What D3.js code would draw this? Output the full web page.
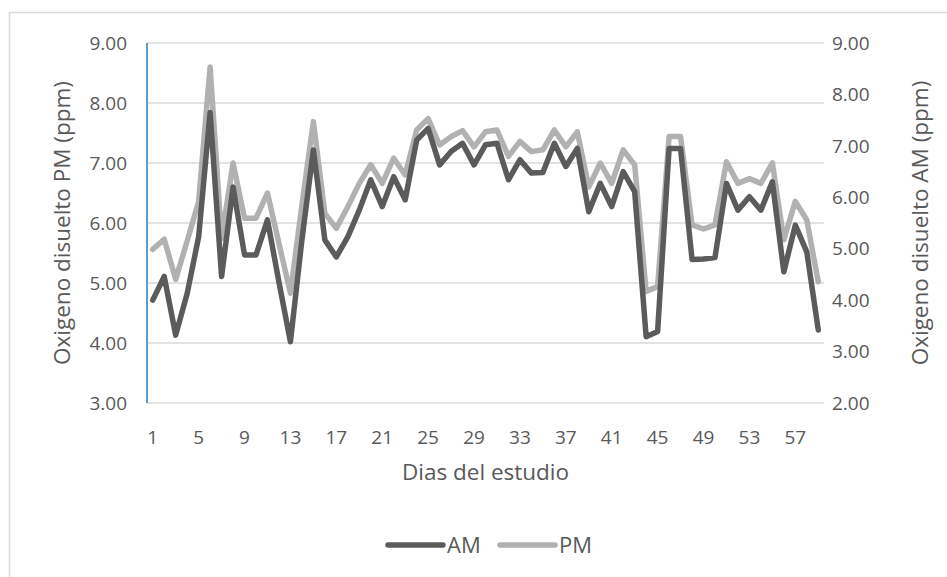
<!DOCTYPE html>
<html><head><meta charset="utf-8">
<script src="https://cdn.jsdelivr.net/npm/d3@7"></script>
<style>html,body{margin:0;padding:0;background:#fff;} svg{display:block;font-family:"Open Sans",sans-serif;}</style>
</head><body>
<svg id="c" width="947" height="577"></svg>
<script>
const days = [1,2,3,4,5,6,7,8,9,10,11,12,13,14,15,16,17,18,19,20,21,22,23,24,25,26,27,28,29,30,31,32,33,34,35,36,37,38,39,40,41,42,43,44,45,46,47,48,49,50,51,52,53,54,55,56,57,58,59];
const amValues = [4.00,4.46,3.32,4.13,5.23,7.65,4.46,6.20,4.88,4.88,
  5.56,4.35,3.19,5.17,6.92,5.17,4.84,5.23,5.75,6.34,
  5.82,6.40,5.95,7.11,7.34,6.63,6.89,7.05,6.63,7.02,
  7.05,6.34,6.73,6.47,6.48,7.05,6.60,6.95,5.72,6.27,
  5.82,6.50,6.11,3.29,3.39,6.95,6.95,4.79,4.80,4.83,
  6.27,5.75,6.01,5.75,6.30,4.55,5.46,4.94,3.42];
const pmValues = [5.56,5.73,5.06,5.70,6.36,8.60,5.74,7.00,6.08,6.08,
  6.50,5.66,4.83,6.30,7.69,6.16,5.91,6.27,6.66,6.97,
  6.66,7.08,6.80,7.55,7.74,7.30,7.44,7.54,7.27,7.52,
  7.55,7.11,7.36,7.19,7.22,7.55,7.27,7.52,6.60,7.00,
  6.66,7.22,6.97,4.86,4.94,7.44,7.44,5.97,5.90,5.97,
  7.02,6.66,6.74,6.66,7.00,5.72,6.36,6.05,5.02];
const leftTicks = [3,4,5,6,7,8,9];
const rightTicks = [2,3,4,5,6,7,8,9];
const xTickLabels = [1,5,9,13,17,21,25,29,33,37,41,45,49,53,57];
const seriesNames = ["AM","PM"];
const xTitle = "Dias del estudio";
const leftTitle = "Oxigeno disuelto PM (ppm)";
const rightTitle = "Oxigeno disuelto AM (ppm)";

const svg = d3.select("#c");
const L = 147, R = 824, T = 43, B = 403;
const textColor = "#595959";
const amColor = "#5b5b5b", pmColor = "#b1b1b1";

svg.append("rect").attr("x",9.5).attr("y",12.5).attr("width",960).attr("height",600)
  .attr("fill","#fff").attr("stroke","#d9d9d9").attr("stroke-width",1.5);

const x = d3.scaleBand().domain(days).range([L,R]).padding(0);
const xc = d => x(d) + x.bandwidth()/2;
const yL = d3.scaleLinear().domain([3,9]).range([B,T]);
const yR = d3.scaleLinear().domain([2,9]).range([B,T]);

// gridlines
svg.append("g").selectAll("line").data(leftTicks).join("line")
  .attr("x1",L).attr("x2",R).attr("y1",d=>yL(d)).attr("y2",d=>yL(d))
  .attr("stroke","#d9d9d9").attr("stroke-width",1.5);

// left axis line (blue)
svg.append("line").attr("x1",L).attr("x2",L).attr("y1",T).attr("y2",B)
  .attr("stroke","#5b9bd5").attr("stroke-width",2);

// left tick labels
svg.append("g").selectAll("text").data(leftTicks).join("text")
  .attr("x",127).attr("y",d=>yL(d)).attr("dy","0.35em").attr("text-anchor","end")
  .attr("font-size",19).attr("fill",textColor).text(d=>d.toFixed(2));
// right tick labels
svg.append("g").selectAll("text").data(rightTicks).join("text")
  .attr("x",832).attr("y",d=>yR(d)).attr("dy","0.35em").attr("text-anchor","start")
  .attr("font-size",19).attr("fill",textColor).text(d=>d.toFixed(2));
// x tick labels
svg.append("g").selectAll("text").data(xTickLabels).join("text")
  .attr("x",d=>xc(d)).attr("y",437).attr("dy","0.35em").attr("text-anchor","middle")
  .attr("font-size",19).attr("fill",textColor).text(d=>d);

// titles
svg.append("text").attr("x",(L+R)/2).attr("y",472).attr("dy","0.35em").attr("text-anchor","middle")
  .attr("font-size",22.5).attr("fill",textColor).text(xTitle);
svg.append("text").attr("transform","translate(62,223) rotate(-90)").attr("dy","0.35em")
  .attr("text-anchor","middle").attr("font-size",22.5).attr("fill",textColor).text(leftTitle);
svg.append("text").attr("transform","translate(920,223) rotate(-90)").attr("dy","0.35em")
  .attr("text-anchor","middle").attr("font-size",22.5).attr("fill",textColor).text(rightTitle);

// lines
const linePM = d3.line().x((d,i)=>xc(days[i])).y(d=>yL(d));
const lineAM = d3.line().x((d,i)=>xc(days[i])).y(d=>yR(d));
svg.append("path").datum(pmValues).attr("d",linePM).attr("fill","none")
  .attr("stroke",pmColor).attr("stroke-width",5.5).attr("stroke-linejoin","round").attr("stroke-linecap","round");
svg.append("path").datum(amValues).attr("d",lineAM).attr("fill","none")
  .attr("stroke",amColor).attr("stroke-width",5.5).attr("stroke-linejoin","round").attr("stroke-linecap","round");

// legend
const legend = [{name:seriesNames[0],color:amColor,x:388},{name:seriesNames[1],color:pmColor,x:500}];
const lg = svg.append("g").selectAll("g").data(legend).join("g");
lg.append("line").attr("x1",d=>d.x).attr("x2",d=>d.x+55).attr("y1",545).attr("y2",545)
  .attr("stroke",d=>d.color).attr("stroke-width",5.5).attr("stroke-linecap","round");
lg.append("text").attr("x",d=>d.x+59).attr("y",545).attr("dy","0.35em")
  .attr("font-size",22).attr("fill",textColor).text(d=>d.name);
</script>
</body></html>
